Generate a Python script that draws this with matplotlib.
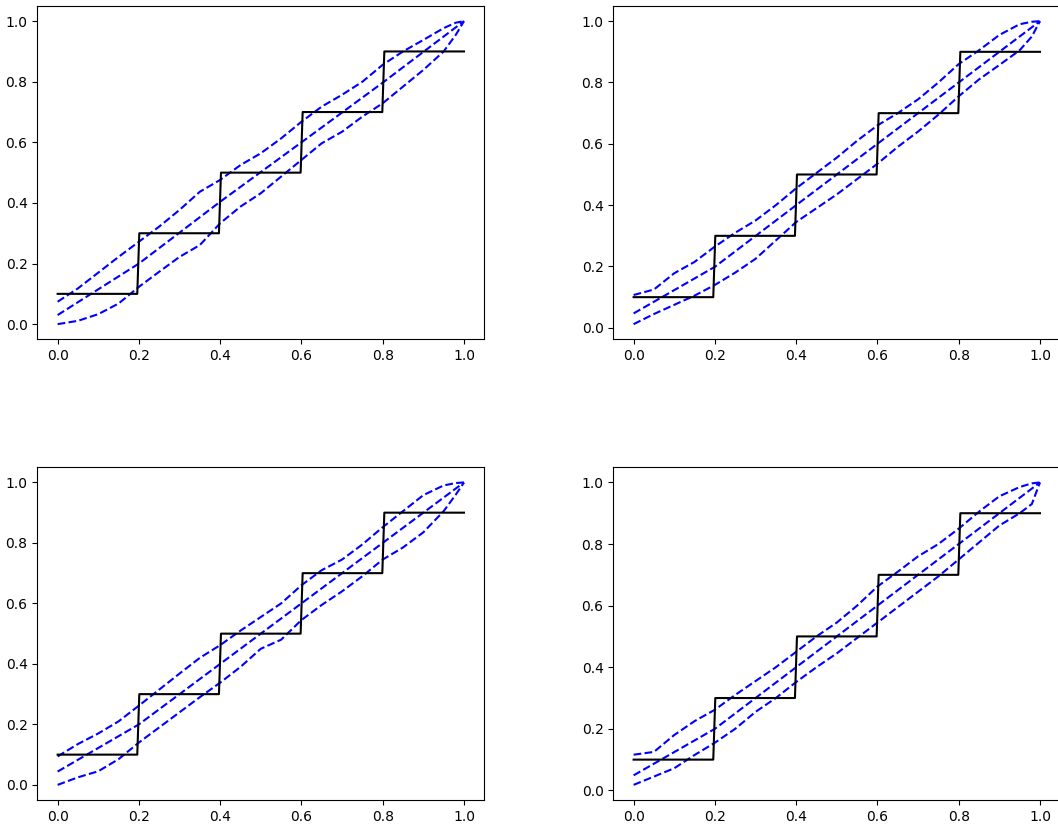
import numpy as np
import matplotlib
matplotlib.use('Agg')
import matplotlib.pyplot as plt

# black step reference (corner points, the risers are slightly slanted)
step_x = [0.0, 0.196, 0.201, 0.397, 0.402, 0.598, 0.603, 0.799, 0.804, 1.0]
step_y = [0.1, 0.1, 0.3, 0.3, 0.5, 0.5, 0.7, 0.7, 0.9, 0.9]

xs = [0.0, 0.05, 0.1, 0.15, 0.2, 0.25, 0.3, 0.35, 0.4, 0.45, 0.5,
      0.55, 0.6, 0.65, 0.7, 0.75, 0.8, 0.85, 0.9, 0.95, 0.98, 1.0]
mid_xs = [0.0, 0.2, 0.4, 0.6, 0.8, 1.0]

# panel 1 (top left)
upper1 = [0.074, 0.118, 0.17, 0.222, 0.272, 0.322, 0.377, 0.437, 0.476, 0.525, 0.564,
          0.613, 0.668, 0.718, 0.757, 0.80, 0.856, 0.90, 0.938, 0.977, 0.995, 1.0]
lower1 = [0.0, 0.011, 0.033, 0.068, 0.123, 0.173, 0.222, 0.261, 0.333, 0.388, 0.432,
          0.487, 0.542, 0.597, 0.635, 0.685, 0.729, 0.784, 0.839, 0.90, 0.955, 1.0]
mid1 = [0.03, 0.2, 0.404, 0.6, 0.797, 1.0]

# panel 2 (top right)
upper2 = [0.107, 0.125, 0.178, 0.215, 0.265, 0.31, 0.35, 0.40, 0.455, 0.505, 0.555,
          0.61, 0.66, 0.70, 0.745, 0.80, 0.86, 0.905, 0.955, 0.99, 0.998, 1.0]
lower2 = [0.012, 0.045, 0.075, 0.105, 0.14, 0.18, 0.225, 0.285, 0.345, 0.39, 0.435,
          0.485, 0.535, 0.59, 0.64, 0.695, 0.755, 0.81, 0.857, 0.905, 0.95, 1.0]
mid2 = [0.047, 0.199, 0.4, 0.6, 0.8, 1.0]

# panel 3 (bottom left)
upper3 = [0.094, 0.135, 0.17, 0.21, 0.262, 0.315, 0.368, 0.42, 0.462, 0.51, 0.555,
          0.60, 0.66, 0.71, 0.745, 0.795, 0.852, 0.905, 0.958, 0.99, 0.998, 1.0]
lower3 = [0.0, 0.025, 0.045, 0.085, 0.14, 0.19, 0.24, 0.29, 0.338, 0.39, 0.45,
          0.48, 0.545, 0.595, 0.64, 0.69, 0.745, 0.785, 0.835, 0.905, 0.96, 1.0]
mid3 = [0.044, 0.2, 0.4, 0.6, 0.8, 1.0]

# panel 4 (bottom right)
upper4 = [0.116, 0.125, 0.18, 0.225, 0.262, 0.31, 0.355, 0.40, 0.45, 0.50, 0.545,
          0.60, 0.662, 0.71, 0.76, 0.80, 0.85, 0.905, 0.955, 0.985, 0.997, 1.0]
lower4 = [0.018, 0.045, 0.072, 0.115, 0.155, 0.20, 0.255, 0.30, 0.352, 0.40, 0.445,
          0.495, 0.545, 0.595, 0.645, 0.695, 0.75, 0.805, 0.86, 0.90, 0.93, 1.0]
mid4 = [0.049, 0.2, 0.4, 0.6, 0.8, 1.0]

panels = [(upper1, lower1, mid1), (upper2, lower2, mid2),
          (upper3, lower3, mid3), (upper4, lower4, mid4)]

W, H = 1058, 827
fig = plt.figure(figsize=(W / 100, H / 100), dpi=100)

# axes boxes in pixels: (left, top, width, height)
boxes = [(37.3, 6, 447, 333.3), (613.3, 6, 447, 333.3),
         (37.3, 467.3, 447, 332.7), (613.3, 467.3, 447, 332.7)]

for (l, t, w, h), (up, lo, mid) in zip(boxes, panels):
    ax = fig.add_axes([l / W, 1 - (t + h) / H, w / W, h / H])
    ax.plot(xs, lo, 'b--')
    ax.plot(xs, up, 'b--')
    ax.plot(mid_xs, mid, 'b--')
    ax.plot(step_x, step_y, 'k-')

fig.savefig('out.png', dpi=100)
